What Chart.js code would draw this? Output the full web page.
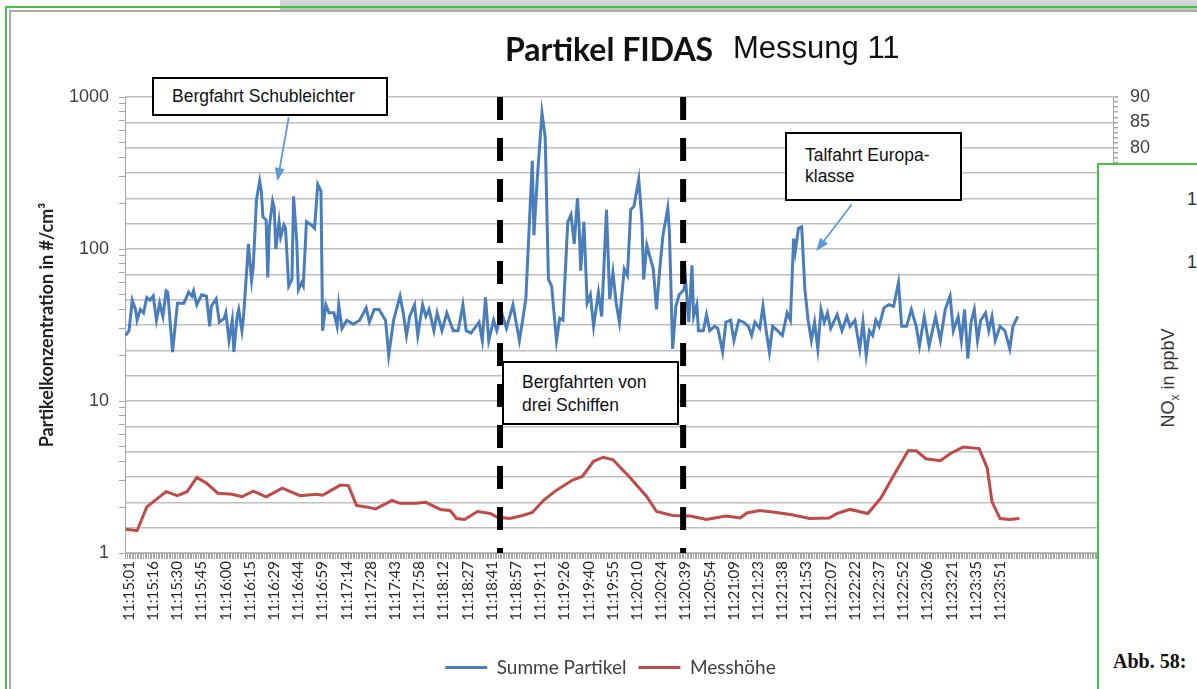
<!DOCTYPE html>
<html>
<head>
<meta charset="utf-8">
<script src="https://cdn.jsdelivr.net/npm/chart.js@4"></script>
<style>
  body { margin: 0; background: #fff; overflow: hidden; }
  #wrap { position: relative; width: 1197px; height: 689px; overflow: hidden; background: #fff; }
  #c { position: absolute; left: 0; top: 0; }
  .abs { position: absolute; white-space: nowrap; }
  .note { position: absolute; box-sizing: border-box; background: #fff; border: 2px solid #000;
          font: 17.5px "Liberation Sans", Arial, sans-serif; color: #111; padding-left: 18px; }
</style>
</head>
<body>
<div id="wrap">
  <canvas id="c" width="1197" height="689"></canvas>

  <!-- screenshot frame -->
  <div class="abs" style="left:280px;top:0;width:917px;height:12px;background:linear-gradient(#dcdcdc,#bdbdbd);"></div>
  <div class="abs" style="left:5px;top:6px;width:1192px;height:2px;background:#45c145;"></div>
  <div class="abs" style="left:9px;top:10px;width:1188px;height:2px;background:#a9a9a9;"></div>
  <div class="abs" style="left:5px;top:6px;width:2px;height:683px;background:#45c145;"></div>
  <div class="abs" style="left:9px;top:10px;width:2px;height:679px;background:#a9a9a9;"></div>

  <!-- title -->
  <div class="abs" style="left:505px;top:29px;line-height:40px;font:bold 32px Lato, sans-serif;color:#111;">Partikel FIDAS</div>
  <div class="abs" style="left:733px;top:30px;line-height:40px;font:31px 'Liberation Sans', Arial, sans-serif;color:#111;">Messung 11</div>

  <!-- annotations -->
  <div class="note" style="left:152px;top:77px;width:236px;height:39px;line-height:35px;">Bergfahrt Schubleichter</div>
  <div class="note" style="left:502px;top:361px;width:177px;height:64px;line-height:23px;padding-top:8px;">Bergfahrten von<br>drei Schiffen</div>
  <div class="note" style="left:785px;top:132px;width:177px;height:69px;line-height:21px;padding-top:11px;">Talfahrt Europa-<br>klasse</div>

  <!-- neighbouring figure overlapping the right edge -->
  <div class="abs" style="left:1097px;top:163px;width:200px;height:600px;background:#fff;border-left:2px solid #45c145;border-top:2px solid #45c145;"></div>
  <div class="abs" style="left:1187px;top:189px;font:18px 'Liberation Sans', Arial, sans-serif;color:#333;">1</div>
  <div class="abs" style="left:1187px;top:252px;font:18px 'Liberation Sans', Arial, sans-serif;color:#333;">1</div>
  <div class="abs" style="left:1170px;top:378px;transform:translate(-50%,-50%) rotate(-90deg);font:18px 'Liberation Sans', Arial, sans-serif;color:#333;">NO<sub style="font-size:12px">x</sub> in ppbV</div>
  <div class="abs" style="left:1113px;top:650px;font:bold 20px 'Liberation Serif', serif;color:#111;">Abb. 58:</div>
</div>

<script>
// x axis: one category per sample, a time label every 15 samples
const zeitLabels = ["11:15:01","11:15:16","11:15:30","11:15:45","11:16:00","11:16:15","11:16:29","11:16:44",
  "11:16:59","11:17:14","11:17:28","11:17:43","11:17:58","11:18:12","11:18:27","11:18:41","11:18:57",
  "11:19:11","11:19:26","11:19:40","11:19:55","11:20:10","11:20:24","11:20:39","11:20:54","11:21:09",
  "11:21:23","11:21:38","11:21:53","11:22:07","11:22:22","11:22:37","11:22:52","11:23:06","11:23:21",
  "11:23:35","11:23:51"];
const labelSchritt = 15;
const labelStart = 2;
const anzahlKategorien = 612;

// left axis decades
const dekaden = [1, 10, 100, 1000];

// Summe Partikel (#/cm³), sample index + value
const partikelIdx = [0,2,4,6,7,9,11,13,15,17,19,21,23,25,26,29,32,36,39,41,42,44,47,50,52,53,56,58,61,62,
  64,66,67,69,70,72,73,75,76,78,79,81,83,84,85,87,88,89,91,92,93,95,96,98,99,101,103,104,106,107,
  109,110,112,115,117,119,121,122,124,126,129,131,132,134,137,141,145,149,151,154,157,161,163,166,170,172,174,176,179,181,
  184,186,188,191,193,196,199,203,206,209,211,214,219,221,223,225,228,230,233,236,240,244,246,248,252,253,255,258,260,262,
  264,267,269,271,274,276,278,280,281,282,284,286,288,290,293,295,298,300,302,304,306,309,311,313,315,318,320,321,323,325,
  327,329,331,333,336,337,339,341,343,346,347,349,351,352,354,355,358,360,362,365,367,370,372,375,377,380,383,386,388,390,
  393,395,397,399,401,404,407,410,412,414,415,417,419,421,423,425,427,429,431,433,435,437,441,444,447,449,452,455,457,459,
  461,463,465,467,470,473,476,479,481,484,487,490,492,495,498,502,505,508,511,513,516,518,520,522,524,526,528,530,533,535,
  537,539,542,545,548,550,553];
const partikelWert = [27,29,46,40,34,40,38,48,46,49,34,44,36,53,52,21,44,44,52,49,53,43,50,49,31,42,47,33,35,38,
  25,34,21,36,40,29,36,74,108,62,76,211,280,240,163,155,65,140,206,186,100,151,120,144,137,57,63,222,111,54,
  60,57,151,144,137,266,240,29,43,38,38,31,43,30,34,32,34,41,33,40,40,34,20,34,49,38,27,36,43,27,
  43,36,40,29,38,29,38,29,29,43,29,28,33,25,48,25,34,29,38,30,43,25,34,47,380,123,280,786,544,63,
  57,25,35,34,151,168,108,216,144,72,151,44,50,31,52,36,181,47,70,44,33,74,67,181,191,287,151,63,106,88,
  74,40,74,123,186,130,22,42,50,54,63,33,78,36,43,29,29,37,29,31,30,21,33,34,25,34,33,31,27,33,
  30,42,29,21,31,29,27,38,34,117,96,137,140,54,34,25,33,22,40,33,38,30,37,29,36,31,34,22,33,20,
  29,27,34,31,41,43,42,60,31,31,40,31,23,36,23,36,25,40,49,29,36,25,40,19,33,40,25,34,38,29,
  36,25,31,29,22,31,36];

// Messhöhe (right axis), sample index + value
const hoeheIdx = [0,7,13,25,32,38,44,50,57,66,72,79,87,97,108,118,122,133,138,143,149,155,165,170,180,186,195,201,205,210,
  218,226,230,238,246,252,259,267,277,283,290,296,302,312,323,329,339,350,360,372,381,385,393,401,412,424,436,441,449,460,
  468,478,485,490,496,505,511,519,529,534,537,542,548,554];
const hoeheWert = [4.7,4.4,9.1,12.1,11.3,12.1,14.9,13.8,11.8,11.6,11.1,12.2,11.1,12.8,11.3,11.6,11.4,13.4,13.3,9.4,
  9.1,8.7,10.4,9.8,9.8,10.0,8.6,8.4,6.8,6.6,8.2,7.8,7.1,6.8,7.4,8.0,10.4,12.4,14.4,15.1,
  18.1,18.9,18.4,15.1,11.1,8.2,7.4,7.3,6.6,7.3,6.9,7.9,8.4,8.1,7.6,6.8,6.9,7.8,8.6,7.8,
  10.8,16.4,20.2,20.2,18.6,18.2,19.6,20.9,20.6,16.8,10.1,6.8,6.6,6.8];

// dashed markers: start/end of the three upstream passages
const markerIdx = [232, 345.5];

// arrows from the note boxes: [sample index, #/cm³]
const hinweisPfeile = [
  { von: [101, 736], nach: [94, 280] },
  { von: [450, 196], nach: [428, 97] }
];

const pfeilPlugin = {
  id: 'pfeile',
  afterDatasetsDraw(chart) {
    const { ctx, scales } = chart;
    ctx.save();
    ctx.strokeStyle = '#5b9bd5';
    ctx.fillStyle = '#5b9bd5';
    ctx.lineWidth = 1.8;
    hinweisPfeile.forEach(p => {
      const x1 = scales.x.getPixelForValue(p.von[0]), y1 = scales.y.getPixelForValue(p.von[1]);
      const x2 = scales.x.getPixelForValue(p.nach[0]), y2 = scales.y.getPixelForValue(p.nach[1]);
      const a = Math.atan2(y2 - y1, x2 - x1);
      const len = 13, half = 5;
      const bx = x2 - Math.cos(a) * len, by = y2 - Math.sin(a) * len;
      ctx.beginPath(); ctx.moveTo(x1, y1); ctx.lineTo(bx, by); ctx.stroke();
      ctx.beginPath();
      ctx.moveTo(x2, y2);
      ctx.lineTo(bx + Math.sin(a) * half, by - Math.cos(a) * half);
      ctx.lineTo(bx - Math.sin(a) * half, by + Math.cos(a) * half);
      ctx.closePath(); ctx.fill();
    });
    ctx.restore();
  }
};

const logTicks = [];
[1, 10, 100].forEach(d => { for (let m = 1; m < 10; m++) logTicks.push(d * m); });
logTicks.push(1000);

const ctx = document.getElementById('c');

new Chart(ctx, {
  type: 'line',
  data: {
    datasets: [
      {
        label: 'Summe Partikel',
        data: partikelIdx.map((x, i) => ({ x: x, y: partikelWert[i] })),
        borderColor: '#4a7ebb', backgroundColor: '#4a7ebb',
        borderWidth: 3, pointRadius: 0, tension: 0, yAxisID: 'y'
      },
      {
        label: 'Messhöhe',
        data: hoeheIdx.map((x, i) => ({ x: x, y: hoeheWert[i] })),
        borderColor: '#be4b48', backgroundColor: '#be4b48',
        borderWidth: 3, pointRadius: 0, tension: 0, yAxisID: 'y2'
      },
      ...markerIdx.map(m => ({
        label: 'marker',
        data: [{ x: m, y: 1000 }, { x: m, y: 1 }],
        borderColor: '#000', borderWidth: 6, borderDash: [23, 18],
        pointRadius: 0, yAxisID: 'y', order: -1
      }))
    ]
  },
  options: {
    responsive: false,
    animation: false,
    layout: { padding: { top: 97, bottom: 2, left: 24, right: 0 } },
    plugins: {
      tooltip: { enabled: false },
      legend: {
        position: 'bottom',
        labels: {
          filter: item => item.text !== 'marker',
          usePointStyle: true, pointStyle: 'line', pointStyleWidth: 42,
          font: { family: 'Lato', size: 19 }, color: '#404040', padding: 12
        }
      }
    },
    scales: {
      x: {
        type: 'linear', min: -0.5, max: anzahlKategorien,
        afterBuildTicks: s => {
          const t = [];
          for (let i = 0; i <= anzahlKategorien; i++) t.push({ value: i });
          s.ticks = t;
        },
        afterFit: s => { s.height = 93; },
        ticks: {
          autoSkip: false, minRotation: 90, maxRotation: 90, padding: 2,
          font: { family: 'Lato', size: 15 }, color: '#262626',
          callback: v => {
            const k = (v - labelStart) / labelSchritt;
            return Number.isInteger(k) && zeitLabels[k] ? zeitLabels[k] : '';
          }
        },
        grid: { drawOnChartArea: false, tickLength: 6, color: '#a6a6a6', lineWidth: 1 },
        border: { color: '#a6a6a6' }
      },
      y: {
        type: 'logarithmic', position: 'left', min: 1, max: 1000,
        afterBuildTicks: s => { s.ticks = logTicks.map(v => ({ value: v })); },
        afterFit: s => { s.width = 101; },
        ticks: {
          autoSkip: false, padding: 10, font: { family: 'Liberation Sans', size: 18 }, color: '#404040',
          callback: v => dekaden.includes(Math.round(v)) && Math.abs(v - Math.round(v)) < 1e-6 ? String(Math.round(v)) : ''
        },
        grid: { drawOnChartArea: false, tickLength: 6, color: '#a6a6a6' },
        border: { color: '#a6a6a6' },
        title: {
          display: true, text: 'Partikelkonzentration in #/cm³',
          font: { family: 'Lato', size: 18, weight: 'bold' }, color: '#222',
          padding: { top: 12, bottom: 0 }
        }
      },
      y2: {
        type: 'linear', position: 'right', min: 0, max: 90,
        afterBuildTicks: s => {
          const t = [];
          for (let v = 0; v <= 90; v++) t.push({ value: v });
          s.ticks = t;
        },
        afterFit: s => { s.width = 84; },
        ticks: {
          autoSkip: false, padding: 12, font: { family: 'Liberation Sans', size: 18 }, color: '#404040',
          callback: v => v % 5 === 0 ? String(v) : ''
        },
        grid: {
          color: c => c.tick && c.tick.value % 5 === 0 ? '#bfbfbf' : 'rgba(0,0,0,0)',
          tickColor: '#a6a6a6', tickLength: 5, lineWidth: 1.5
        },
        border: { color: '#a6a6a6' }
      }
    }
  },
  plugins: [pfeilPlugin]
});
</script>
</body>
</html>
